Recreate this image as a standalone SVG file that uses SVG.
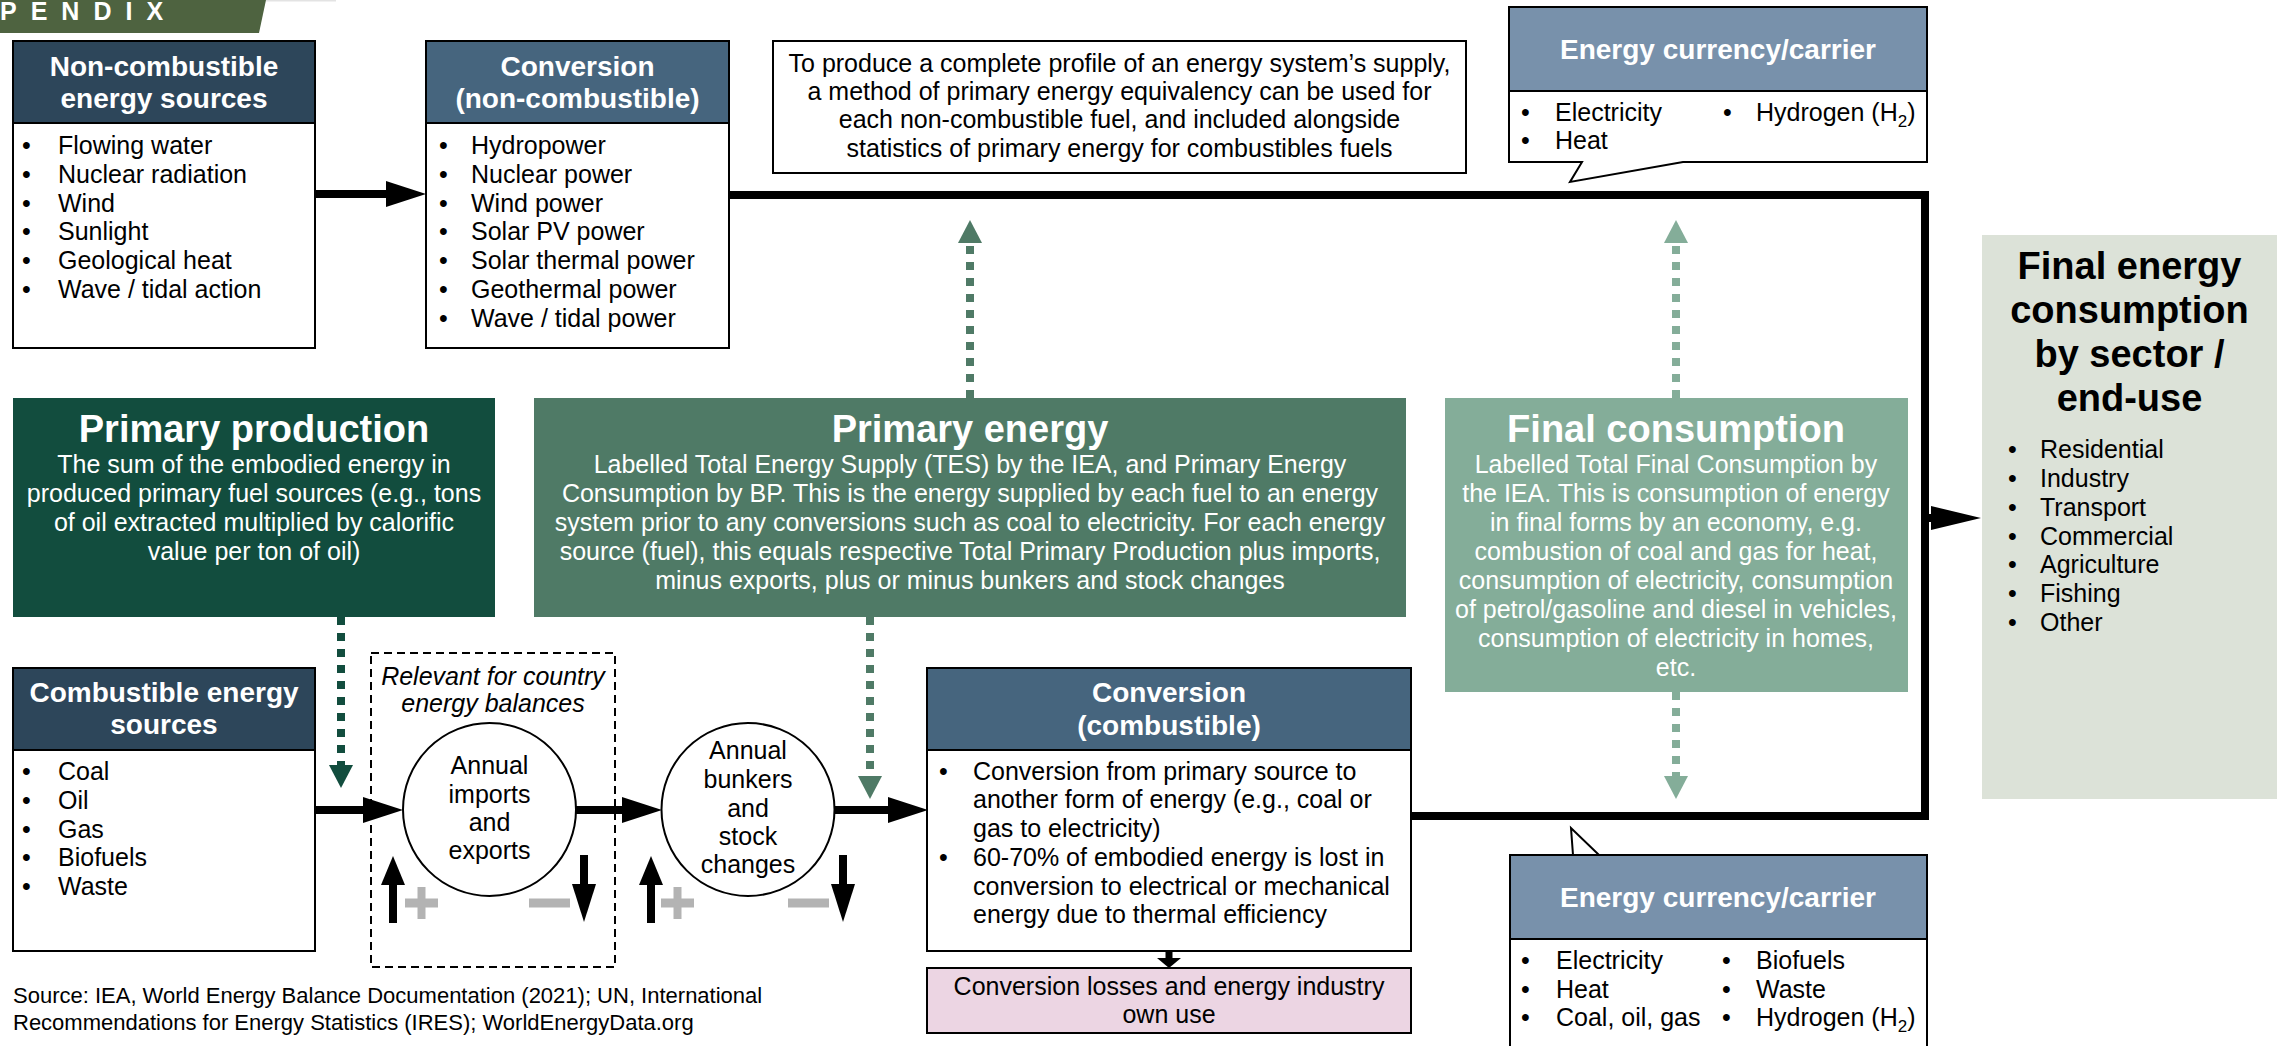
<svg xmlns="http://www.w3.org/2000/svg" width="2277" height="1046" viewBox="0 0 2277 1046">
<style>
text { font-family: "Liberation Sans", Arial, Helvetica, sans-serif; }
.t { font-size: 25px; fill: #000; }
.tc { font-size: 25px; fill: #000; text-anchor: middle; }
.tw { font-size: 25px; fill: #fff; text-anchor: middle; }
.hdr { font-size: 28px; font-weight: bold; fill: #fff; text-anchor: middle; }
.big { font-size: 38px; font-weight: bold; fill: #fff; text-anchor: middle; }
.it { font-size: 25px; font-style: italic; fill: #000; text-anchor: middle; }
.box { fill: #fff; stroke: #000; stroke-width: 2; }
.navy { fill: #2d465a; stroke: #000; stroke-width: 2; }
.slate { fill: #46657e; stroke: #000; stroke-width: 2; }
.steel { fill: #7891ab; stroke: #000; stroke-width: 2; }
.thick { fill: none; stroke: #000; stroke-width: 8; }
.dot { fill: none; stroke-width: 8; stroke-dasharray: 8 8; }
.sign { fill: #b3b3b3; }
</style>
<defs>
<marker id="ah" markerUnits="userSpaceOnUse" markerWidth="40" markerHeight="26" refX="0" refY="13" orient="auto" overflow="visible">
<path d="M0,0 L40,13 L0,26 Z" fill="#000"/>
</marker>
<marker id="ahl" markerUnits="userSpaceOnUse" markerWidth="50" markerHeight="24" refX="0" refY="12" orient="auto" overflow="visible">
<path d="M0,0 L50,12 L0,24 Z" fill="#000"/>
</marker>
<marker id="ahUp" markerUnits="userSpaceOnUse" markerWidth="29" markerHeight="24" refX="0" refY="12" orient="auto" overflow="visible">
<path d="M0,0 L29,12 L0,24 Z" fill="#000"/>
</marker>
<marker id="ahDn" markerUnits="userSpaceOnUse" markerWidth="38" markerHeight="24" refX="0" refY="12" orient="auto" overflow="visible">
<path d="M0,0 L38,12 L0,24 Z" fill="#000"/>
</marker>
<marker id="gDark" markerUnits="userSpaceOnUse" markerWidth="23" markerHeight="24" refX="0" refY="12" orient="auto" overflow="visible">
<path d="M0,0 L23,12 L0,24 Z" fill="#124d3e"/>
</marker>
<marker id="gMid" markerUnits="userSpaceOnUse" markerWidth="23" markerHeight="24" refX="0" refY="12" orient="auto" overflow="visible">
<path d="M0,0 L23,12 L0,24 Z" fill="#4f7a66"/>
</marker>
<marker id="gLight" markerUnits="userSpaceOnUse" markerWidth="23" markerHeight="24" refX="0" refY="12" orient="auto" overflow="visible">
<path d="M0,0 L23,12 L0,24 Z" fill="#84ad99"/>
</marker>
</defs>

<rect width="2277" height="1046" fill="#fff"/>

<g id="banner">
<polygon points="0,0 266,0 259,33 0,33" fill="#4e6340"/>
<rect x="266" y="0" width="70" height="1.5" fill="#e3e3e3"/>
<text x="0" y="20" font-size="25" font-weight="bold" fill="#fff" letter-spacing="14">PENDIX</text>
</g>

<g id="connectors">
<path class="thick" d="M729,195 H1925 V816 H1411"/>
<line class="thick" x1="315" y1="194" x2="386" y2="194" marker-end="url(#ah)"/>
<line class="thick" x1="1925" y1="518" x2="1931" y2="518" marker-end="url(#ahl)"/>
<line class="thick" x1="315" y1="810" x2="363" y2="810" marker-end="url(#ah)"/>
<line class="thick" x1="576" y1="810" x2="622" y2="810" marker-end="url(#ah)"/>
<line class="thick" x1="834" y1="810" x2="888" y2="810" marker-end="url(#ah)"/>
<line stroke="#000" stroke-width="7" x1="1169" y1="951" x2="1169" y2="959"/>
<polygon points="1157,958 1181,958 1169,968" fill="#000"/>
<line class="dot" stroke="#124d3e" x1="341" y1="617" x2="341" y2="765" marker-end="url(#gDark)"/>
<line class="dot" stroke="#4f7a66" x1="870" y1="617" x2="870" y2="776" marker-end="url(#gMid)"/>
<line class="dot" stroke="#4f7a66" x1="970" y1="398" x2="970" y2="243" marker-end="url(#gMid)"/>
<line class="dot" stroke="#84ad99" x1="1676" y1="398" x2="1676" y2="243" marker-end="url(#gLight)"/>
<line class="dot" stroke="#84ad99" x1="1676" y1="692" x2="1676" y2="776" marker-end="url(#gLight)"/>
</g>

<g id="flow-signs">
<line stroke="#000" stroke-width="8" x1="393" y1="923" x2="393" y2="885" marker-end="url(#ahUp)"/>
<line stroke="#000" stroke-width="8" x1="584" y1="855" x2="584" y2="884" marker-end="url(#ahDn)"/>
<line stroke="#000" stroke-width="8" x1="651" y1="923" x2="651" y2="885" marker-end="url(#ahUp)"/>
<line stroke="#000" stroke-width="8" x1="843" y1="855" x2="843" y2="884" marker-end="url(#ahDn)"/>
<rect class="sign" x="405" y="898.5" width="33" height="9"/>
<rect class="sign" x="417.5" y="887" width="8" height="32"/>
<rect class="sign" x="661" y="898.5" width="33" height="9"/>
<rect class="sign" x="673.5" y="887" width="8" height="32"/>
<rect class="sign" x="529" y="898.5" width="41" height="9"/>
<rect class="sign" x="788" y="898.5" width="41" height="9"/>
</g>

<g id="non-combustible-sources">
<rect class="box" x="13" y="41" width="302" height="307"/>
<rect class="navy" x="13" y="41" width="302" height="82"/>
<text class="hdr" x="164" y="76">Non-combustible</text>
<text class="hdr" x="164" y="108">energy sources</text>
<text class="t"><tspan x="22" y="154">•</tspan><tspan x="22" y="183">•</tspan><tspan x="22" y="212">•</tspan><tspan x="22" y="240">•</tspan><tspan x="22" y="269">•</tspan><tspan x="22" y="298">•</tspan></text>
<text class="t"><tspan x="58" y="154">Flowing water</tspan><tspan x="58" y="183">Nuclear radiation</tspan><tspan x="58" y="212">Wind</tspan><tspan x="58" y="240">Sunlight</tspan><tspan x="58" y="269">Geological heat</tspan><tspan x="58" y="298">Wave / tidal action</tspan></text>
</g>

<g id="conversion-non-combustible">
<rect class="box" x="426" y="41" width="303" height="307"/>
<rect class="slate" x="426" y="41" width="303" height="82"/>
<text class="hdr" x="577.5" y="76">Conversion</text>
<text class="hdr" x="577.5" y="108">(non-combustible)</text>
<text class="t"><tspan x="439" y="154">•</tspan><tspan x="439" y="183">•</tspan><tspan x="439" y="212">•</tspan><tspan x="439" y="240">•</tspan><tspan x="439" y="269">•</tspan><tspan x="439" y="298">•</tspan><tspan x="439" y="327">•</tspan></text>
<text class="t"><tspan x="471" y="154">Hydropower</tspan><tspan x="471" y="183">Nuclear power</tspan><tspan x="471" y="212">Wind power</tspan><tspan x="471" y="240">Solar PV power</tspan><tspan x="471" y="269">Solar thermal power</tspan><tspan x="471" y="298">Geothermal power</tspan><tspan x="471" y="327">Wave / tidal power</tspan></text>
</g>

<g id="equivalency-note">
<rect class="box" x="773" y="41" width="693" height="132"/>
<text class="tc"><tspan x="1119.5" y="72">To produce a complete profile of an energy system’s supply,</tspan><tspan x="1119.5" y="100">a method of primary energy equivalency can be used for</tspan><tspan x="1119.5" y="128">each non-combustible fuel, and included alongside</tspan><tspan x="1119.5" y="157">statistics of primary energy for combustibles fuels</tspan></text>
</g>

<g id="carrier-top">
<path class="box" d="M1509,7 H1927 V162 H1683 L1570,182 L1582,162 H1509 Z"/>
<rect class="steel" x="1509" y="7" width="418" height="84"/>
<text class="hdr" x="1718" y="59">Energy currency/carrier</text>
<text class="t"><tspan x="1521" y="121">•</tspan><tspan x="1521" y="149">•</tspan><tspan x="1723" y="121">•</tspan></text>
<text class="t"><tspan x="1555" y="121">Electricity</tspan><tspan x="1555" y="149">Heat</tspan></text>
<text class="t" x="1756" y="121">Hydrogen (H<tspan font-size="17" dy="6">2</tspan><tspan dy="-6">)</tspan></text>
</g>

<g id="primary-production">
<rect x="13" y="398" width="482" height="219" fill="#124d3e"/>
<text class="big" x="254" y="442">Primary production</text>
<text class="tw"><tspan x="254" y="473">The sum of the embodied energy in</tspan><tspan x="254" y="502">produced primary fuel sources (e.g., tons</tspan><tspan x="254" y="531">of oil extracted multiplied by calorific</tspan><tspan x="254" y="560">value per ton of oil)</tspan></text>
</g>

<g id="primary-energy">
<rect x="534" y="398" width="872" height="219" fill="#4f7a66"/>
<text class="big" x="970" y="442">Primary energy</text>
<text class="tw"><tspan x="970" y="473">Labelled Total Energy Supply (TES) by the IEA, and Primary Energy</tspan><tspan x="970" y="502">Consumption by BP. This is the energy supplied by each fuel to an energy</tspan><tspan x="970" y="531">system prior to any conversions such as coal to electricity. For each energy</tspan><tspan x="970" y="560">source (fuel), this equals respective Total Primary Production plus imports,</tspan><tspan x="970" y="589">minus exports, plus or minus bunkers and stock changes</tspan></text>
</g>

<g id="final-consumption">
<rect x="1445" y="398" width="463" height="294" fill="#84ad99"/>
<text class="big" x="1676" y="442">Final consumption</text>
<text class="tw"><tspan x="1676" y="473">Labelled Total Final Consumption by</tspan><tspan x="1676" y="502">the IEA. This is consumption of energy</tspan><tspan x="1676" y="531">in final forms by an economy, e.g.</tspan><tspan x="1676" y="560">combustion of coal and gas for heat,</tspan><tspan x="1676" y="589">consumption of electricity, consumption</tspan><tspan x="1676" y="618">of petrol/gasoline and diesel in vehicles,</tspan><tspan x="1676" y="647">consumption of electricity in homes,</tspan><tspan x="1676" y="676">etc.</tspan></text>
</g>

<g id="final-energy-by-sector">
<rect x="1982" y="235" width="295" height="564" fill="#dce2d8"/>
<text font-size="38" font-weight="bold" fill="#000" text-anchor="middle"><tspan x="2129.5" y="279">Final energy</tspan><tspan x="2129.5" y="323">consumption</tspan><tspan x="2129.5" y="367">by sector /</tspan><tspan x="2129.5" y="411">end-use</tspan></text>
<text class="t"><tspan x="2008" y="458">•</tspan><tspan x="2008" y="487">•</tspan><tspan x="2008" y="516">•</tspan><tspan x="2008" y="545">•</tspan><tspan x="2008" y="573">•</tspan><tspan x="2008" y="602">•</tspan><tspan x="2008" y="631">•</tspan></text>
<text class="t"><tspan x="2040" y="458">Residential</tspan><tspan x="2040" y="487">Industry</tspan><tspan x="2040" y="516">Transport</tspan><tspan x="2040" y="545">Commercial</tspan><tspan x="2040" y="573">Agriculture</tspan><tspan x="2040" y="602">Fishing</tspan><tspan x="2040" y="631">Other</tspan></text>
</g>

<g id="combustible-sources">
<rect class="box" x="13" y="668" width="302" height="283"/>
<rect class="navy" x="13" y="668" width="302" height="82"/>
<text class="hdr" x="164" y="702">Combustible energy</text>
<text class="hdr" x="164" y="734">sources</text>
<text class="t"><tspan x="22" y="780">•</tspan><tspan x="22" y="809">•</tspan><tspan x="22" y="838">•</tspan><tspan x="22" y="866">•</tspan><tspan x="22" y="895">•</tspan></text>
<text class="t"><tspan x="58" y="780">Coal</tspan><tspan x="58" y="809">Oil</tspan><tspan x="58" y="838">Gas</tspan><tspan x="58" y="866">Biofuels</tspan><tspan x="58" y="895">Waste</tspan></text>
</g>

<g id="country-balances">
<rect x="371" y="653" width="244" height="314" fill="none" stroke="#000" stroke-width="2" stroke-dasharray="8 5"/>
<text class="it"><tspan x="493" y="685">Relevant for country</tspan><tspan x="493" y="712">energy balances</tspan></text>
</g>

<g id="imports-exports">
<circle class="box" cx="489.5" cy="809.5" r="86.5"/>
<text class="tc"><tspan x="489.5" y="774">Annual</tspan><tspan x="489.5" y="803">imports</tspan><tspan x="489.5" y="831">and</tspan><tspan x="489.5" y="859">exports</tspan></text>
</g>

<g id="bunkers-stock">
<circle class="box" cx="748" cy="809.5" r="86.5"/>
<text class="tc"><tspan x="748" y="759">Annual</tspan><tspan x="748" y="788">bunkers</tspan><tspan x="748" y="817">and</tspan><tspan x="748" y="845">stock</tspan><tspan x="748" y="873">changes</tspan></text>
</g>

<g id="conversion-combustible">
<rect class="box" x="927" y="668" width="484" height="283"/>
<rect class="slate" x="927" y="668" width="484" height="82"/>
<text class="hdr" x="1169" y="702">Conversion</text>
<text class="hdr" x="1169" y="735">(combustible)</text>
<text class="t"><tspan x="939" y="780">•</tspan><tspan x="939" y="866">•</tspan></text>
<text class="t"><tspan x="973" y="780">Conversion from primary source to</tspan><tspan x="973" y="808">another form of energy (e.g., coal or</tspan><tspan x="973" y="837">gas to electricity)</tspan><tspan x="973" y="866">60-70% of embodied energy is lost in</tspan><tspan x="973" y="895">conversion to electrical or mechanical</tspan><tspan x="973" y="923">energy due to thermal efficiency</tspan></text>
</g>

<g id="conversion-losses">
<rect x="927" y="968" width="484" height="65" fill="#ecd5e3" stroke="#000" stroke-width="2"/>
<text class="tc"><tspan x="1169" y="995">Conversion losses and energy industry</tspan><tspan x="1169" y="1023">own use</tspan></text>
</g>

<g id="carrier-bottom">
<path class="box" d="M1510,855 H1573 L1571,828 L1599,855 H1927 V1052 H1510 Z"/>
<rect class="steel" x="1510" y="855" width="417" height="84"/>
<text class="hdr" x="1718" y="907">Energy currency/carrier</text>
<text class="t"><tspan x="1521" y="969">•</tspan><tspan x="1521" y="998">•</tspan><tspan x="1521" y="1026">•</tspan><tspan x="1722" y="969">•</tspan><tspan x="1722" y="998">•</tspan><tspan x="1722" y="1026">•</tspan></text>
<text class="t"><tspan x="1556" y="969">Electricity</tspan><tspan x="1556" y="998">Heat</tspan><tspan x="1556" y="1026">Coal, oil, gas</tspan><tspan x="1756" y="969">Biofuels</tspan><tspan x="1756" y="998">Waste</tspan></text>
<text class="t" x="1756" y="1026">Hydrogen (H<tspan font-size="17" dy="6">2</tspan><tspan dy="-6">)</tspan></text>
</g>

<g id="source">
<text font-size="22" fill="#000"><tspan x="13" y="1003">Source: IEA, World Energy Balance Documentation (2021); UN, International</tspan><tspan x="13" y="1030">Recommendations for Energy Statistics (IRES); WorldEnergyData.org</tspan></text>
</g>
</svg>
